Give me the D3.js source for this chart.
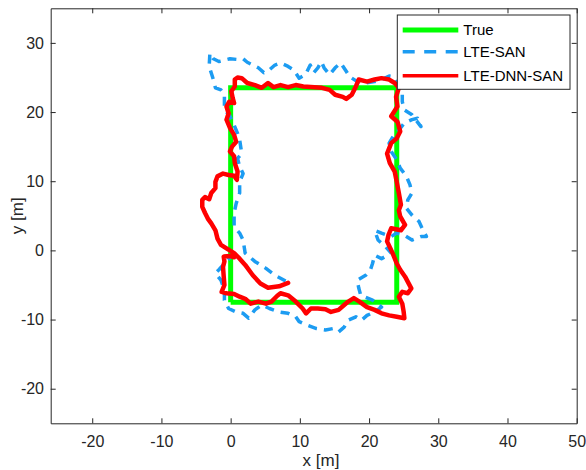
<!DOCTYPE html>
<html>
<head>
<meta charset="utf-8">
<script src="https://cdn.jsdelivr.net/npm/d3@7"></script>
<style>
  html, body { margin: 0; padding: 0; background: #fff; }
  svg { display: block; font-family: "Liberation Sans", Arial, Helvetica, sans-serif; }
</style>
</head>
<body>
<svg id="chart" width="586" height="470"></svg>
<script>
// ---------- data (metres) ----------
const seriesNames = ["True", "LTE-SAN", "LTE-DNN-SAN"];
const xTicks = [-20, -10, 0, 10, 20, 30, 40, 50];
const yTicks = [-20, -10, 0, 10, 20, 30];

const trueX = [0, 24, 24, 0, 0];
const trueY = [-7.5, -7.5, 23.5, 23.5, -7.5];

const sanX = [0.5,-0.9,-1.7,-2.2,-1.4,-0.9,-0.9,-0.3,0.8,1.8,2.6,3.5,4.5,5.6,7.0,8.3,9.4,9.9,11.0,12.4,13.7,14.8,15.6,16.4,17.0,18.1,18.9,19.7,20.8,21.8,20.5,18.8,18.5,18.3,19.5,20.2,20.5,20.8,21.8,23.2,22.4,21.3,20.8,21.8,23.2,24.0,25.1,26.2,27.5,28.3,27.8,27.2,26.2,25.4,25.6,26.2,25.9,25.4,24.5,24.0,23.2,22.9,23.5,24.3,25.1,26.2,27.0,27.5,26.2,25.1,24.8,24.8,24.3,23.5,22.9,21.8,20.8,19.4,18.3,17.2,16.7,15.9,15.1,14.3,13.5,13.1,12.6,12.0,11.5,10.8,9.9,9.1,8.3,7.2,6.4,5.6,4.8,4.0,3.2,2.4,1.8,1.0,-0.1,-0.9,-1.7,-2.5,-3.0,-3.1,-2.5,-2.2,-1.4,-0.9,-0.9,-0.2,0.5,1.0,1.3,1.6,1.0,1.3,1.8,1.3,1.3,0.8,0.5,0.5,1.3,1.8,2.1,3.5,5.1,6.4,8.1];
const sanY = [-0.4,-1.9,-2.8,-3.3,-4.3,-5.7,-7.2,-8.4,-8.9,-9.1,-9.8,-8.6,-7.9,-8.4,-8.9,-9.1,-9.6,-10.3,-10.8,-11.3,-11.5,-11.3,-11.8,-11.1,-10.1,-9.6,-10.1,-9.4,-8.9,-8.2,-7.2,-6.5,-5.4,-4.3,-3.6,-2.8,-1.9,-0.7,-1.2,-0.4,0.5,1.5,2.9,2.5,2.0,2.5,2.2,1.5,2.0,2.0,2.9,4.2,5.1,6.1,7.3,8.3,9.5,10.7,11.9,13.1,14.3,15.5,16.5,17.4,18.4,18.9,19.1,17.9,19.6,20.3,21.5,22.5,23.7,25.1,25.2,24.7,24.4,24.2,24.4,25.1,25.9,27.1,26.4,25.4,26.4,27.3,26.4,25.7,26.8,25.4,24.9,26.1,26.6,27.1,26.8,26.1,25.7,26.4,26.8,27.2,27.7,27.6,27.7,27.5,27.3,27.7,28.5,26.6,24.7,23.5,23.2,22.5,20.3,19.6,18.1,16.9,16.0,14.0,13.3,12.1,11.1,9.9,8.3,6.8,5.4,3.4,2.5,1.5,-0.4,-1.6,-2.6,-3.6,-4.5];

const dnnX = [8.3,7.0,5.4,4.3,3.2,2.1,1.3,0.5,-0.6,-1.4,-1.9,-2.2,-2.8,-3.3,-3.7,-4.1,-4.1,-3.7,-3.1,-2.8,-2.2,-2.2,-1.9,-1.1,-0.3,0.5,0.9,1.0,0.6,0.5,-0.1,0.2,0.8,0.5,-0.1,-0.6,-0.3,-0.6,-0.2,0.5,0.3,0.1,0.6,0.6,1.0,1.6,2.4,3.5,4.5,5.4,6.2,7.2,8.3,9.4,10.5,12.1,13.2,14.3,15.1,16.2,16.7,17.5,18.1,18.5,19.7,20.8,21.8,22.9,23.7,24.3,23.9,24.1,23.2,24.1,24.5,24.0,23.2,22.6,23.0,23.7,24.0,24.3,24.6,24.3,24.5,25.2,24.6,23.2,22.8,22.6,23.4,24.0,24.5,25.2,26.1,25.6,24.8,24.3,24.8,25.0,25.1,24.0,22.9,21.8,20.8,19.7,18.6,17.8,17.0,16.4,15.6,14.5,13.7,12.6,11.6,10.9,10.4,9.4,8.3,7.2,6.7,5.9,5.1,4.0,2.9,2.1,1.3,0.5,-0.6,-1.3,-0.9,-1.0,-1.1,-0.9,-1.0,-0.1,0.5];
const dnnY = [-4.7,-5.2,-5.4,-4.8,-3.6,-2.1,-1.2,-0.4,0.3,0.8,1.7,2.9,3.9,4.6,5.4,6.3,7.3,7.7,7.4,8.3,9.0,9.9,10.7,11.1,10.9,10.8,10.2,11.4,12.6,13.6,14.3,15.0,15.7,16.7,17.7,18.9,19.8,20.8,21.5,21.3,22.0,23.0,23.7,24.7,25.0,24.9,24.2,23.9,23.5,24.2,23.6,23.9,23.6,23.9,23.7,23.6,23.5,23.2,22.5,22.2,21.9,22.5,23.7,24.7,24.4,24.7,24.9,24.7,24.2,23.5,22.2,20.8,19.4,18.6,17.2,16.2,15.5,14.0,12.6,11.4,9.9,8.3,6.6,5.8,4.9,3.7,2.9,3.2,2.2,1.3,-0.4,-1.9,-2.8,-3.8,-5.5,-6.2,-6.0,-6.7,-7.7,-8.9,-9.8,-9.6,-9.4,-9.1,-8.6,-8.2,-7.4,-6.9,-7.4,-7.9,-8.6,-8.9,-8.5,-8.4,-8.4,-9.1,-8.4,-7.4,-6.5,-6.2,-6.6,-7.4,-7.7,-7.4,-7.7,-7.0,-6.7,-6.3,-6.2,-6.0,-5.0,-3.8,-2.4,-1.6,-0.9,-0.8,-1.0];

// ---------- layout ----------
const svg = d3.select("#chart");
const L = 50.7, R = 576.7, T = 8.3, B = 423.3;
const x = d3.scaleLinear().domain([-26, 50]).range([L, R]);
const y = d3.scaleLinear().domain([-25, 35]).range([B, T]);
const axisColor = "#262626";
const colors = { "True": "#00ff00", "LTE-SAN": "#1c9cf2", "LTE-DNN-SAN": "#ff0000" };
const fmt = d => String(d);

// clip
svg.append("defs").append("clipPath").attr("id", "clip")
  .append("rect").attr("x", L).attr("y", T).attr("width", R - L).attr("height", B - T);

const plot = svg.append("g").attr("clip-path", "url(#clip)");
const line = d3.line().x(d => x(d[0])).y(d => y(d[1]));

plot.append("path")
  .datum(d3.zip(trueX, trueY))
  .attr("d", line).attr("fill", "none")
  .attr("stroke", colors["True"]).attr("stroke-width", 5).attr("stroke-linejoin", "miter");

plot.append("path")
  .datum(d3.zip(sanX, sanY))
  .attr("d", line).attr("fill", "none")
  .attr("stroke", colors["LTE-SAN"]).attr("stroke-width", 3.5)
  .attr("stroke-dasharray", "9,7").attr("stroke-linejoin", "round");

plot.append("path")
  .datum(d3.zip(dnnX, dnnY))
  .attr("d", line).attr("fill", "none")
  .attr("stroke", colors["LTE-DNN-SAN"]).attr("stroke-width", 4.5)
  .attr("stroke-linejoin", "round").attr("stroke-linecap", "round");

// ---------- axes ----------
function styleAxis(g) {
  g.selectAll("path.domain").attr("stroke", axisColor).attr("stroke-width", 1);
  g.selectAll(".tick line").attr("stroke", axisColor).attr("stroke-width", 1);
  g.selectAll(".tick text").attr("fill", axisColor).style("font-size", "16px")
    .style("font-family", '"Liberation Sans", Arial, sans-serif');
}

svg.append("g").attr("transform", `translate(0,${B})`)
  .call(d3.axisBottom(x).tickValues(xTicks).tickFormat(fmt).tickSizeInner(-5).tickSizeOuter(0).tickPadding(12.5))
  .call(styleAxis);
svg.append("g").attr("transform", `translate(0,${T})`)
  .call(d3.axisTop(x).tickValues(xTicks).tickSizeInner(-5).tickSizeOuter(0).tickFormat(""))
  .call(styleAxis);
svg.append("g").attr("transform", `translate(${L},0)`)
  .call(d3.axisLeft(y).tickValues(yTicks).tickFormat(fmt).tickSizeInner(-5).tickSizeOuter(0).tickPadding(6.7))
  .call(styleAxis);
svg.append("g").attr("transform", `translate(${R},0)`)
  .call(d3.axisRight(y).tickValues(yTicks).tickSizeInner(-5).tickSizeOuter(0).tickFormat(""))
  .call(styleAxis);

// axis labels
svg.append("text").attr("x", 321).attr("y", 466)
  .attr("text-anchor", "middle").attr("fill", axisColor)
  .style("font-size", "17px").text("x [m]");
svg.append("text").attr("transform", `translate(23,${(T + B) / 2}) rotate(-90)`)
  .attr("text-anchor", "middle").attr("fill", axisColor)
  .style("font-size", "17px").text("y [m]");

// ---------- legend ----------
const lg = svg.append("g");
lg.append("rect").attr("x", 397.3).attr("y", 15).attr("width", 172.7).attr("height", 74.3)
  .attr("fill", "#fff").attr("stroke", axisColor).attr("stroke-width", 1);
const legendRows = [30, 51.7, 75.7];
const legendStyle = {
  "True": { w: 5, dash: null },
  "LTE-SAN": { w: 3.5, dash: "12,9.5" },
  "LTE-DNN-SAN": { w: 3.5, dash: null }
};
seriesNames.forEach((name, i) => {
  const yy = legendRows[i];
  const s = legendStyle[name];
  const ln = lg.append("line").attr("x1", 402.7).attr("x2", 458.3).attr("y1", yy).attr("y2", yy)
    .attr("stroke", colors[name]).attr("stroke-width", s.w);
  if (s.dash) ln.attr("stroke-dasharray", s.dash);
  lg.append("text").attr("x", 463.3).attr("y", yy).attr("dy", "0.35em")
    .attr("fill", "#000").style("font-size", "15px").text(name);
});
</script>
</body>
</html>
